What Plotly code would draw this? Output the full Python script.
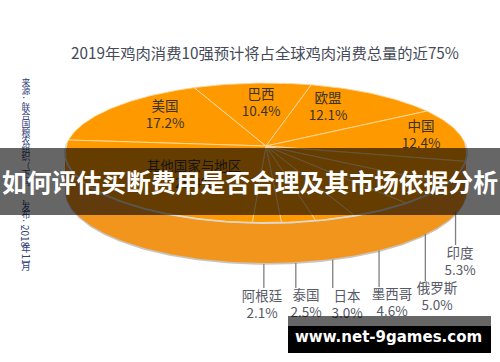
import numpy as np
import plotly.graph_objects as go

# ---- data ----
categories = ["美国", "巴西", "欧盟", "中国", "印度", "俄罗斯", "墨西哥", "日本", "泰国", "阿根廷", "其他国家与地区"]
shares = [17.2, 10.4, 12.1, 12.4, 5.3, 5.0, 4.6, 3.0, 2.5, 2.1, 25.4]
title_text = "2019年鸡肉消费10强预计将占全球鸡肉消费总量的近75%"
banner_text = "如何评估买断费用是否合理及其市场依据分析"
site_text = "www.net-9games.com"

# ---- projection of the tilted pie onto the page ----
CX, CY = 266.0, 146.0      # apex
RX, RY = 200.0, 69.3       # radii
PERSP = 0.10               # front is nearer than back
DEPTH = 36.0               # thickness of the disc
START = 175.0              # angle of the first slice's leading edge, degrees


def rim(deg, drop=0.0):
    t = np.radians(np.asarray(deg, dtype=float))
    den = 1 + PERSP * np.sin(t)
    return CX + RX * np.cos(t) / den, CY - (RY * np.sin(t) - drop) / den


vals = np.array(shares)
edges = START - np.concatenate([[0], np.cumsum(vals)]) / vals.sum() * 360.0

fig = go.Figure()

# disc side, front half of the rim only
front = np.linspace(185, 360, 200)
xt, yt = rim(front)
xb, yb = rim(front, DEPTH)
xs, ys = rim(front, DEPTH + 1.6)
fig.add_trace(go.Scatter(x=np.r_[xt, xs[::-1]], y=np.r_[yt, ys[::-1]], mode="lines", fill="toself",
                         fillcolor="#c9c4bd", line=dict(width=0), hoverinfo="skip"))
fig.add_trace(go.Scatter(x=np.r_[xt, xb[::-1]], y=np.r_[yt, yb[::-1]], mode="lines", fill="toself",
                         fillcolor="#F2951C", line=dict(width=0), hoverinfo="skip"))

# top-face slices
for name, a0, a1 in zip(categories, edges[:-1], edges[1:]):
    arc = np.linspace(a0, a1, 60)
    xa, ya = rim(arc)
    fig.add_trace(go.Scatter(x=np.r_[CX, xa, CX], y=np.r_[CY, ya, CY], mode="lines", fill="toself",
                             fillcolor="#FF9900", line=dict(color="#FFD9A0", width=0.9),
                             name=name, hoverinfo="skip"))

# pale rim line between top face and side
xr, yr = rim(np.linspace(178, 362, 220))
fig.add_trace(go.Scatter(x=xr, y=yr, mode="lines", line=dict(color="#DDD8CF", width=1.8), hoverinfo="skip"))

# leader lines for the ten-strong slices below the disc
LEADER_END = {"印度": 245, "俄罗斯": 281, "墨西哥": 287, "日本": 288, "泰国": 288, "阿根廷": 288}
mids = dict(zip(categories, (edges[:-1] + edges[1:]) / 2))
for name, yend in LEADER_END.items():
    x0, y0 = rim(mids[name], DEPTH + 1)
    fig.add_trace(go.Scatter(x=[x0 - 3, x0 - 3], y=[y0, yend], mode="lines",
                             line=dict(color="#7f7f7f", width=1.3), hoverinfo="skip"))

# slice labels (name above, share below)
LABEL_AT = {"美国": (165, 108), "巴西": (261, 96), "欧盟": (328, 100), "中国": (421, 128),
            "其他国家与地区": (194, 168), "印度": (460, 255), "俄罗斯": (437, 290),
            "墨西哥": (392, 296), "日本": (347, 298), "泰国": (306, 297), "阿根廷": (262, 298)}
TOP = {"美国", "巴西", "欧盟", "中国", "其他国家与地区"}
FONT = "Noto Sans CJK SC, Noto Sans, sans-serif"
for name, v in zip(categories, shares):
    lx, ly = LABEL_AT[name]
    col = "#3b3326" if name in TOP else "#565a66"
    fig.add_trace(go.Scatter(x=[lx, lx], y=[ly, ly + 17], mode="text", text=[name, f"{v:.1f}%"],
                             textposition="middle center",
                             textfont=dict(family=FONT, size=13.5, color=col), hoverinfo="skip"))

# vertical source note, one upright glyph at a time
SOURCE_A = "来源：联合国粮农组织（下同），发布："
pitch = 8.25
fig.add_trace(go.Scatter(x=[26] * len(SOURCE_A), y=[84 + i * pitch for i in range(len(SOURCE_A))],
                         mode="text", text=list(SOURCE_A), textposition="middle center",
                         textfont=dict(family=FONT, size=8.8, color="#2F3D7A"), hoverinfo="skip"))
fig.add_trace(go.Scatter(x=[26, 26], y=[250, 268], mode="text", text=["年", "月"],
                         textposition="middle center",
                         textfont=dict(family=FONT, size=9.5, color="#2F3D7A"), hoverinfo="skip"))
fig.add_annotation(x=26, y=236, text="2018", textangle=90, showarrow=False,
                   font=dict(family=FONT, size=10, color="#2F3D7A"))
fig.add_annotation(x=26, y=258.5, text="11", textangle=90, showarrow=False,
                   font=dict(family=FONT, size=10, color="#2F3D7A"))

fig.add_annotation(x=265, y=52, text=title_text, showarrow=False,
                   font=dict(family=FONT, size=15.3, color="#454a58"))

# overlay banner + site tag
fig.add_shape(type="rect", x0=0, x1=500, y0=148, y1=215, fillcolor="rgba(0,0,0,0.6)", line_width=0, layer="above")
fig.add_shape(type="rect", x0=288, x1=491, y0=316, y1=326, fillcolor="rgba(0,0,0,0.6)", line_width=0, layer="above")
fig.add_shape(type="rect", x0=288, x1=491, y0=326, y1=353, fillcolor="#000000", line_width=0, layer="above")
fig.add_annotation(x=250, y=181, text=f"<b>{banner_text}</b>", showarrow=False,
                   font=dict(family=FONT, size=24.8, color="#ffffff"))
fig.add_annotation(x=388.5, y=337, text=f"<b>{site_text}</b>", showarrow=False,
                   font=dict(family="DejaVu Sans, sans-serif", size=15, color="#ffffff"))

fig.update_layout(width=500, height=362, margin=dict(l=0, r=0, t=0, b=0), showlegend=False,
                  paper_bgcolor="#ffffff", plot_bgcolor="#ffffff",
                  xaxis=dict(range=[0, 500], visible=False, fixedrange=True),
                  yaxis=dict(range=[362, 0], visible=False, fixedrange=True))
fig.write_html("out.html", config={"displayModeBar": False},
               post_script="document.body.style.margin='0';document.body.style.overflow='hidden';")
